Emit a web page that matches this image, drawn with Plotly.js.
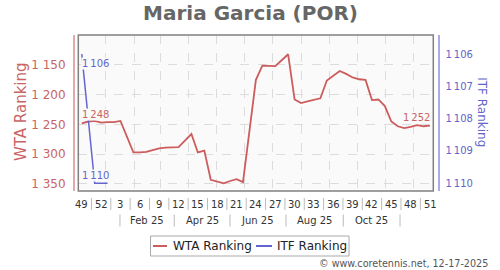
<!DOCTYPE html>
<html>
<head>
<meta charset="utf-8">
<script src="https://cdn.plot.ly/plotly-3.0.1.min.js"></script>
<style>html,body{margin:0;padding:0;background:#fff;}#chart{width:500px;height:270px;}</style>
</head>
<body>
<div id="chart"></div>
<script>
// ---- data (weekly points, week 49 of 2024 to week 51 of 2025) ----
const weekNums = [49,50,51,52,1,2,3,4,5,6,7,8,9,10,11,12,13,14,15,16,17,18,19,20,21,22,23,24,25,26,27,28,29,30,31,32,33,34,35,36,37,38,39,40,41,42,43,44,45,46,47,48,49,50,51];
const wtaRanking = [1248,1245,1244,1247,1246,1246,1244,1270,1297,1297,
                    1296,1293,1290,1289,1289,1288,1277,1266,1297,1294,
                    1343,1346,1349,1345,1342,1347,1261,1175,1151,1152,
                    1152,1142,1132,1208,1214,1211,1209,1206,1176,1168,
                    1160,1165,1171,1174,1175,1209,1208,1219,1245,1253,
                    1256,1254,1251,1253,1252];
const itfRanking = [1106,1108,1110,1110,1110];

// ---- tick labels ----
const wtaTickVals = [1150,1200,1250,1300,1350];
const wtaTickText = ['1 150','1 200','1 250','1 300','1 350'];
const itfTickVals = [1106,1107,1108,1109,1110];
const itfTickText = ['1\u2009106','1\u2009107','1\u2009108','1\u2009109','1\u2009110'];
const weekTickPos = [0,3,6,9,12,15,18,21,24,27,30,33,36,39,42,45,48,51,54];
const weekTickText = ['49','52','3','6','9','12','15','18','21','24','27','30','33','36','39','42','45','48','51'];
const weekSepPos = [1.5,4.5,7.5,10.5,13.5,16.5,19.5,22.5,25.5,28.5,31.5,34.5,37.5,40.5,43.5,46.5,49.5,52.5];
const monthStarts = [3.71,8.14,12.24,16.52,20.92,25.18,29.54,34.1,38.38,42.73,47.13,51.41];
const monthLabels = ['Feb 25','Apr 25','Jun 25','Aug 25','Oct 25'];
const monthSepPos = [5.92,14.34,22.98,31.67,40.55,49.35];

const idx = weekNums.map((_, i) => i);
const itfIdx = itfRanking.map((_, i) => i);

const RED = '#cd5c5c', RED_T = '#c86464', BLUE = '#6565cf', BLUE_T = '#6464c8';
const FONT = 'DejaVu Sans, Verdana, sans-serif';

// pixel helpers for paper-referenced decorations
const L = 73, R = 62, T = 35, B = 75, W = 500, H = 270;
const pw = W - L - R, ph = H - T - B;
const px = p => (p - L) / pw;
const py = p => (H - B - p) / ph;

const traces = [
  {x: idx, y: wtaRanking, xaxis: 'x', yaxis: 'y', mode: 'lines', name: 'WTA Ranking',
   line: {color: RED, width: 1.8}, hoverinfo: 'skip'},
  {x: itfIdx, y: itfRanking, xaxis: 'x', yaxis: 'y2', mode: 'lines', name: 'ITF Ranking',
   line: {color: BLUE, width: 1.5}, hoverinfo: 'skip'}
];

const xRange = [-0.54, 54.51];
const xDomain = [px(78.3), px(433.3)];

const annotations = [];
// value labels
annotations.push({x: 0, y: wtaRanking[0], xref: 'x', yref: 'y', text: '1\u2009' + String(wtaRanking[0]).slice(1),
  xanchor: 'left', yanchor: 'middle', yshift: 9, xshift: -1, showarrow: false, bgcolor: '#fafafa', borderpad: 0,
  font: {family: FONT, size: 10, color: RED_T}});
annotations.push({x: wtaRanking.length - 1, y: wtaRanking[wtaRanking.length - 1], xref: 'x', yref: 'y',
  text: '1\u2009' + String(wtaRanking[wtaRanking.length - 1]).slice(1),
  xanchor: 'right', yanchor: 'middle', yshift: 8.5, xshift: 1, showarrow: false, bgcolor: '#fafafa', borderpad: 0,
  font: {family: FONT, size: 10, color: RED_T}});
annotations.push({x: 0, y: itfRanking[0], xref: 'x', yref: 'y2', text: '1\u2009' + String(itfRanking[0]).slice(1),
  xanchor: 'left', yanchor: 'middle', yshift: -9.3, xshift: -1, showarrow: false, bgcolor: '#fafafa', borderpad: 0,
  font: {family: FONT, size: 10, color: BLUE_T}});
annotations.push({x: itfRanking.length - 1, y: itfRanking[itfRanking.length - 1], xref: 'x', yref: 'y2',
  text: '1\u2009' + String(itfRanking[itfRanking.length - 1]).slice(1),
  xanchor: 'right', yanchor: 'middle', yshift: 7.6, xshift: 2, showarrow: false, bgcolor: '#fafafa', borderpad: 0,
  font: {family: FONT, size: 10, color: BLUE_T}});
// week labels
weekTickPos.forEach((p, i) => annotations.push({x: p, y: 0, xref: 'x', yref: 'paper', text: weekTickText[i],
  xanchor: 'center', yanchor: 'middle', yshift: -9.5, showarrow: false,
  font: {family: FONT, size: 10, color: '#333'}}));
// month labels
monthLabels.forEach((m, i) => annotations.push({x: (monthSepPos[i] + monthSepPos[i + 1]) / 2, y: 0, xref: 'x', yref: 'paper',
  text: m, xanchor: 'center', yanchor: 'middle', yshift: -25.3, showarrow: false,
  font: {family: FONT, size: 10, color: '#333'}}));
// axis titles
annotations.push({x: px(20.5), y: py(111.5), xref: 'paper', yref: 'paper', text: 'WTA Ranking', textangle: -90,
  xanchor: 'center', yanchor: 'middle', showarrow: false, font: {family: FONT, size: 15, color: RED_T}});
annotations.push({x: px(482.5), y: py(111.7), xref: 'paper', yref: 'paper', text: 'ITF Ranking', textangle: 90,
  xanchor: 'center', yanchor: 'middle', showarrow: false, font: {family: FONT, size: 12, color: BLUE_T}});
// legend texts
annotations.push({x: px(171), y: py(246), xref: 'paper', yref: 'paper', text: 'WTA Ranking', xanchor: 'left',
  yanchor: 'middle', showarrow: false, font: {family: FONT, size: 12, color: '#222'}});
annotations.push({x: px(275), y: py(246), xref: 'paper', yref: 'paper', text: 'ITF Ranking', xanchor: 'left',
  yanchor: 'middle', showarrow: false, font: {family: FONT, size: 12, color: '#222'}});
// copyright
annotations.push({x: px(489.5), y: py(263.3), xref: 'paper', yref: 'paper', text: '\u00a9 www.coretennis.net, 12-17-2025',
  xanchor: 'right', yanchor: 'middle', showarrow: false, font: {family: FONT, size: 9.6, color: '#555'}});

const shapes = [];
// plot frame
shapes.push({type: 'rect', xref: 'x domain', yref: 'y domain', x0: 0, x1: 1, y0: 0, y1: 1,
  line: {color: '#808080', width: 1.5}, layer: 'above'});
// week separators
weekSepPos.forEach(p => shapes.push({type: 'line', xref: 'x', yref: 'paper', ysizemode: 'pixel', yanchor: 0,
  x0: p, x1: p, y0: -3, y1: -15, line: {color: '#bbb', width: 1}}));
// month separators
monthSepPos.forEach(p => shapes.push({type: 'line', xref: 'x', yref: 'paper', ysizemode: 'pixel', yanchor: 0,
  x0: p, x1: p, y0: -19.5, y1: -31.5, line: {color: '#bbb', width: 1}}));
// legend box and samples
shapes.push({type: 'rect', xref: 'paper', yref: 'paper', x0: px(150.5), x1: px(349), y0: py(256), y1: py(236),
  line: {color: '#aaa', width: 1}, fillcolor: '#fff', layer: 'below'});
shapes.push({type: 'line', xref: 'paper', yref: 'paper', x0: px(153), x1: px(167), y0: py(246), y1: py(246),
  line: {color: RED, width: 2}});
shapes.push({type: 'line', xref: 'paper', yref: 'paper', x0: px(256), x1: px(272), y0: py(246), y1: py(246),
  line: {color: BLUE, width: 2}});

const layout = {
  width: W, height: H, autosize: false,
  margin: {l: L, r: R, t: T, b: B, pad: 0},
  paper_bgcolor: '#fff', plot_bgcolor: '#fafafa',
  showlegend: false,
  title: {text: '<b>Maria Garcia (POR)</b>', x: 0.501, xref: 'container', xanchor: 'center',
          y: 1 - 13.3 / H, yref: 'container', yanchor: 'middle',
          font: {family: FONT, size: 20, color: '#666'}},
  xaxis: {domain: xDomain, range: xRange, tickvals: monthStarts, showticklabels: false, ticks: '',
          showgrid: true, gridcolor: '#dcdcdc', griddash: 'dash', gridwidth: 1, zeroline: false, showline: false,
          fixedrange: true},
  xaxis2: {domain: xDomain, range: xRange, overlaying: 'x', anchor: 'free', position: 0,
           tickvals: monthStarts, showticklabels: false, ticks: 'outside', ticklen: 3, tickcolor: '#c8c8c8',
           showgrid: false, zeroline: false, showline: true, linecolor: '#c8c8c8', linewidth: 1},
  yaxis: {domain: [py(191), 1], range: [1361.8, 1099.6], anchor: 'free', position: 0,
          tickvals: wtaTickVals, ticktext: wtaTickText, ticks: 'outside', ticklen: 5, tickcolor: 'rgba(0,0,0,0)',
          tickfont: {family: FONT, size: 12, color: RED_T},
          showgrid: true, gridcolor: '#dcdcdc', griddash: 'dash', gridwidth: 1, zeroline: false,
          showline: true, linecolor: '#e3a8a8', linewidth: 1.5},
  yaxis2: {domain: [py(191), 1], range: [1110.24, 1105.41], overlaying: 'y', side: 'right', anchor: 'free', position: 1,
           tickvals: itfTickVals, ticktext: itfTickText, ticks: 'outside', ticklen: 4, tickcolor: 'rgba(0,0,0,0)',
           tickfont: {family: FONT, size: 10, color: BLUE_T},
           showgrid: false, zeroline: false, showline: true, linecolor: '#ababe8', linewidth: 1.5},
  annotations: annotations,
  shapes: shapes
};

Plotly.newPlot('chart', traces, layout, {staticPlot: true, displayModeBar: false});
</script>
</body>
</html>
